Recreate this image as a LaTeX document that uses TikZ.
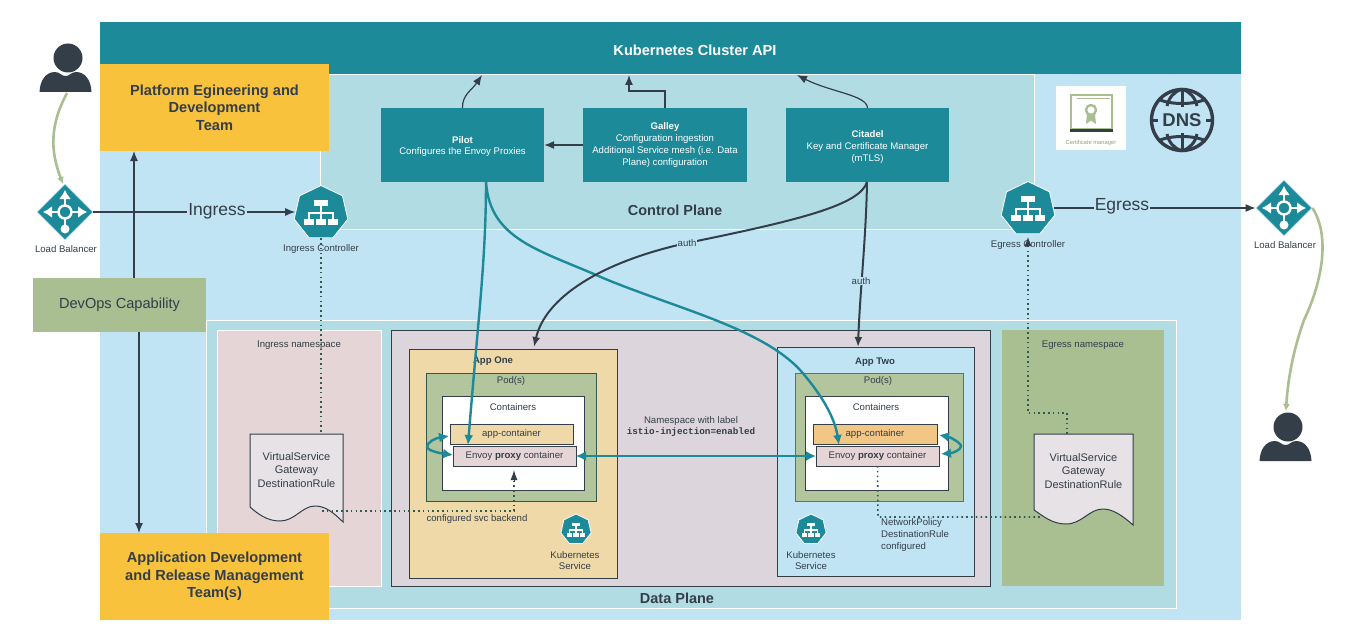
\documentclass[tikz,border=0pt]{standalone}
\usepackage{fontspec}
\setmainfont{Liberation Sans}
\setmonofont{Liberation Mono}
\usetikzlibrary{arrows.meta,calc,shapes.geometric}

\definecolor{meshteal}{HTML}{1C8A99}
\definecolor{meshsky}{HTML}{C1E4F5}
\definecolor{meshplane}{HTML}{B2DCE4}
\definecolor{meshpink}{HTML}{E6D5D6}
\definecolor{meshmauve}{HTML}{DDD5DC}
\definecolor{meshamber}{HTML}{F9C23C}
\definecolor{meshsage}{HTML}{A9BF92}
\definecolor{meshpeach}{HTML}{EFD9A8}
\definecolor{meshdark}{HTML}{333E48}
\definecolor{meshdot}{HTML}{2E5A50}

\tikzset{
	panel/.style={rectangle, inner sep=0pt, outer sep=0pt, text=meshdark},
	tealbox/.style={panel, fill=meshteal, text=white, align=center, minimum height=74pt, font=\fontsize{9.6}{11.7}\selectfont},
	teambox/.style={panel, fill=meshamber, align=center, minimum width=229pt, minimum height=87pt, font=\fontsize{14.6}{17.6}\selectfont\bfseries},
	tag/.style={text=meshdark, inner sep=0pt, align=center, font=\fontsize{9.6}{11.7}\selectfont},
	darkframe/.style={draw=meshdark, line width=1pt},
	flowline/.style={draw=meshdark, line width=1.2pt, -{Latex[length=10pt,width=8pt]}},
	authline/.style={draw=meshdark, line width=2pt, -{Latex[length=10pt,width=8pt]}},
	proxyline/.style={draw=meshteal, line width=2.4pt, -{Latex[length=10pt,width=9pt]}},
	proxyloop/.style={draw=meshteal, line width=2.4pt, {Latex[length=10pt,width=10pt]}-{Latex[length=10pt,width=10pt]}},
	dotline/.style={draw=meshdot, line width=1.6pt, dash pattern=on 1.6pt off 3.2pt},
	userline/.style={draw=meshsage, line width=2.6pt, -{Latex[length=7pt,width=7pt,fill=meshamber]}},
	lbshape/.style={diamond, fill=meshteal, draw=meshsky, line width=.8pt, minimum size=56pt, inner sep=0pt},
	kubeshape/.style={regular polygon, regular polygon sides=7, fill=meshteal, draw=white, line width=.8pt, inner sep=0pt},
	linkword/.style={fill=meshsky, text=meshdark, inner sep=1pt, font=\fontsize{17.5}{19}\selectfont},
	authword/.style={fill=meshsky, text=meshdark, inner sep=.6pt, font=\fontsize{9.6}{11}\selectfont},
}

\def\lbglyph(#1){
	\begin{scope}[shift={(#1)}]
		\draw[white, line width=2.4pt] (0,0) circle (6.5);
		\draw[white, line width=2.4pt, -{Latex[length=9pt,width=12pt]}] (0,-6) -- (0,-22);
		\draw[white, line width=2.4pt, -{Latex[length=9pt,width=12pt]}] (-6,0) -- (-22,0);
		\draw[white, line width=2.4pt, -{Latex[length=9pt,width=12pt]}] (6,0) -- (22,0);
		\draw[white, line width=2.4pt] (0,6) -- (0,16);
		\fill[white] (0,17) circle (4.5);
	\end{scope}
}
\def\kubeglyph(#1)(#2){
	\begin{scope}[shift={(#1)}, scale=#2]
		\fill[white] (-7,-12) rectangle (7,-6);
		\draw[white, line width=1.2pt] (0,-6) -- (0,1) (-12,7) -- (-12,1) -- (12,1) -- (12,7) (0,1) -- (0,7);
		\fill[white] (-17,7) rectangle (-7,13);
		\fill[white] (-5,7) rectangle (5,13);
		\fill[white] (7,7) rectangle (17,13);
	\end{scope}
}
\def\personicon(#1){
	\begin{scope}[shift={(#1)}]
		\fill[meshdark] (0,0) circle (14.5);
		\fill[meshdark] (-28.5,34) .. controls (-28,22) and (-22,14) .. (-13,14) .. controls (-8,14) and (-7,18) .. (-2.5,18) .. controls (2,18) and (3,14) .. (8,14) .. controls (17,14) and (23,22) .. (23.5,34) -- cycle;
	\end{scope}
}

\begin{document}
\begin{tikzpicture}[x=1pt, y=-1pt]
	\useasboundingbox (0,0) rectangle (1350,642);
	
	%%%%% BACKDROP %%%%%
	\node[panel, fill=meshsky, minimum width=1141pt, minimum height=598pt] (clusterarea) at (670.5,321) {};
	\node[panel, fill=meshplane, draw=white, line width=.6pt, minimum width=714pt, minimum height=155pt] (controlplane) at (677,151.5) {};
	\node[panel, fill=meshteal, minimum width=1141pt, minimum height=52pt] (clusterapi) at (670.5,48) {};
	\node[panel, text=white, font=\fontsize{14.6}{17}\selectfont\bfseries] (clusterlabel) at (695,50.5) {Kubernetes Cluster API};
	\node[panel, font=\fontsize{14.5}{17}\selectfont\bfseries] (controllabel) at (675,210.5) {Control Plane};
	
	\node[panel, fill=meshplane, draw=white, line width=.6pt, minimum width=970pt, minimum height=288pt] (dataplane) at (691,464) {};
	\node[panel, font=\fontsize{14.5}{17}\selectfont\bfseries] (datalabel) at (677,598) {Data Plane};
	
	%%%%% NAMESPACES %%%%%
	\node[panel, fill=meshpink, draw=white, line width=.8pt, minimum width=164pt, minimum height=256pt] (ingressns) at (299,458) {};
	\node[tag] (ingresstitle) at (299,345.5) {Ingress namespace};
	\node[panel, fill=meshmauve, darkframe, minimum width=599pt, minimum height=256pt] (meshns) at (690.5,458) {};
	\node[panel, fill=meshsage, minimum width=162pt, minimum height=256pt] (egressns) at (1083,458) {};
	\node[tag] (egresstitle) at (1083,345.5) {Egress namespace};
	\node[tag] (nslabel) at (691,426.5) {Namespace with label\\\fontsize{9.3}{11.7}\selectfont\ttfamily\bfseries istio-injection=enabled};
	
	%%%%% APP ONE %%%%%
	\node[panel, fill=meshpeach, darkframe, minimum width=208pt, minimum height=229pt] (appone) at (513,463.5) {};
	\node[tag, font=\fontsize{9.6}{11.7}\selectfont\bfseries] (apponetitle) at (493,361) {App One};
	\node[panel, fill=meshsage!90!white, draw=meshdot, line width=.8pt, minimum width=170pt, minimum height=128pt] (podone) at (511,437) {};
	\node[tag] (podonetitle) at (511,381.5) {Pod(s)};
	\node[panel, fill=white, darkframe, minimum width=142pt, minimum height=94pt] (boxone) at (513,443) {};
	\node[tag] (boxonetitle) at (513,407) {Containers};
	\node[panel, fill=meshpeach, darkframe, font=\fontsize{9.6}{11.7}\selectfont, minimum width=123pt, minimum height=20pt] (appcone) at (511.5,434) {app-container};
	\node[panel, fill=meshpink, darkframe, font=\fontsize{9.6}{11.7}\selectfont, minimum width=123pt, minimum height=20pt] (envoyone) at (514.5,456) {\raisebox{1.5pt}{Envoy \textbf{proxy} container}};
	\node[kubeshape, minimum size=31pt] (kubeone) at (576,529.5) {};
	\kubeglyph(576,529.5)(.55)
	\node[tag] (kubeonetitle) at (575,560.5) {Kubernetes\\Service};
	
	%%%%% APP TWO %%%%%
	\node[panel, fill=meshsky, darkframe, minimum width=197pt, minimum height=229pt] (apptwo) at (875.5,461.5) {};
	\node[tag, font=\fontsize{9.6}{11.7}\selectfont\bfseries] (apptwotitle) at (875,362) {App Two};
	\node[panel, fill=meshsage!90!white, draw=meshteal, line width=.8pt, minimum width=168pt, minimum height=128pt] (podtwo) at (879,437) {};
	\node[tag] (podtwotitle) at (878,381.5) {Pod(s)};
	\node[panel, fill=white, darkframe, minimum width=143pt, minimum height=94pt] (boxtwo) at (876.5,443) {};
	\node[tag] (boxtwotitle) at (876,407) {Containers};
	\node[panel, fill=meshpeach!80!orange, darkframe, font=\fontsize{9.6}{11.7}\selectfont, minimum width=124pt, minimum height=20pt] (appctwo) at (875,434) {app-container};
	\node[panel, fill=meshpink, darkframe, font=\fontsize{9.6}{11.7}\selectfont, minimum width=123pt, minimum height=20pt] (envoytwo) at (877.5,456) {\raisebox{1.5pt}{Envoy \textbf{proxy} container}};
	\node[kubeshape, minimum size=31pt] (kubetwo) at (811,529.5) {};
	\kubeglyph(811,529.5)(.55)
	\node[tag] (kubetwotitle) at (811,560.5) {Kubernetes\\Service};
	\node[tag, align=left, anchor=north west] (policylabel) at (881,518.5) {NetworkPolicy\\DestinationRule\\configured};
	
	%%%%% VIRTUAL SERVICE SHEETS %%%%%
	\draw[darkframe, fill=meshmauve!70!white] (250,434) -- (343,434) -- (343,522) .. controls (333,512) and (325,506) .. (315,506) .. controls (302,506) and (295,521) .. (280,521) .. controls (267,521) and (258,514) .. (250,507) -- cycle;
	\node[tag, font=\fontsize{11}{13.2}\selectfont] (sheetingress) at (296.5,470) {VirtualService\\Gateway\\DestinationRule};
	\draw[darkframe, fill=meshmauve!70!white] (1034,434) -- (1133,434) -- (1133,525) .. controls (1123,516) and (1113,509) .. (1103,509) .. controls (1089,509) and (1082,524) .. (1066,524) .. controls (1052,524) and (1043,516) .. (1034,510) -- cycle;
	\node[tag, font=\fontsize{11}{13.2}\selectfont] (sheetegress) at (1083.5,471) {VirtualService\\Gateway\\DestinationRule};
	
	%%%%% TEAMS %%%%%
	\node[teambox] (platformteam) at (214.5,107.5) {Platform Egineering and\\Development\\Team};
	\node[teambox] (appteam) at (214.5,576.5) {Application Development\\and Release Management\\Team(s)};
	\node[panel, fill=meshsage, font=\fontsize{14.6}{17}\selectfont, minimum width=173pt, minimum height=54pt] (devops) at (119.5,305) {DevOps Capability};
	
	%%%%% CONTROL PLANE BOXES %%%%%
	\node[tealbox, minimum width=163pt] (pilot) at (462.5,145) {\rule{0pt}{10pt}\textbf{Pilot}\\Configures the Envoy Proxies};
	\node[tealbox, minimum width=164pt] (galley) at (665,145) {\textbf{Galley}\\Configuration ingestion\\Additional Service mesh (i.e. Data\\Plane) configuration};
	\node[tealbox, minimum width=163pt] (citadel) at (867.5,145) {\rule{0pt}{11pt}\textbf{Citadel}\\Key and Certificate Manager\\(mTLS)};
	
	%%%%% CERTIFICATE AND DNS %%%%%
	\node[panel, fill=white, minimum width=70pt, minimum height=64pt] (certbox) at (1091,118) {};
	\draw[meshsage, line width=2.2pt] (1071,95) rectangle (1112,129);
	\draw[meshsage, line width=1.8pt] (1077,98.5) -- (1110,98.5);
	\draw[meshdark, line width=3pt] (1070,130) -- (1113,130);
	\draw[meshsage, line width=2.4pt] (1091,110) circle (5);
	\fill[meshsage] (1087,114) -- (1086,124) -- (1091,120.5) -- (1096,124) -- (1095,114) -- cycle;
	\node[tag, text=meshsage!85!black, font=\fontsize{5.8}{7}\selectfont] (certlabel) at (1091,143) {Certificate manager};
	\draw[meshdark, line width=3.4pt] (1182,120) circle (30.5);
	\draw[meshdark, line width=3pt] (1182,89) -- (1182,107) (1182,133) -- (1182,151) (1151,120) -- (1158,120) (1206,120) -- (1213,120);
	\draw[meshdark, line width=3pt] (1158,99) .. controls (1170,105) and (1194,105) .. (1206,99) (1158,141) .. controls (1170,135) and (1194,135) .. (1206,141);
	\draw[meshdark, line width=3pt] (1182,89) .. controls (1174,92) and (1169,97) .. (1167,106) (1182,89) .. controls (1190,92) and (1195,97) .. (1197,106) (1182,151) .. controls (1174,148) and (1169,143) .. (1167,134) (1182,151) .. controls (1190,148) and (1195,143) .. (1197,134);
	\node[tag, font=\fontsize{18.5}{20}\selectfont\bfseries] (dnslabel) at (1182,120.5) {DNS};
	
	%%%%% EDGE ICONS %%%%%
	\personicon(68,58)
	\personicon(1288,427)
	\coordinate (userleft) at (67,93);
	\coordinate (userright) at (1286,411);
	\node[lbshape] (lbleft) at (65,212) {};
	\lbglyph(65,212)
	\node[tag] (lblefttitle) at (66,249) {Load Balancer};
	\node[lbshape] (lbright) at (1284,208) {};
	\lbglyph(1284,208)
	\node[tag] (lbrighttitle) at (1285,245) {Load Balancer};
	\node[kubeshape, minimum size=55pt] (ingressctl) at (321,213) {};
	\kubeglyph(321,212)(1)
	\node[tag] (ingressctltitle) at (321,249.5) {Ingress Controller};
	\node[kubeshape, minimum size=55pt] (egressctl) at (1028,209) {};
	\kubeglyph(1028,208)(1)
	\node[tag] (egressctltitle) at (1028,245) {Egress Controller};
	
	%%%%% CONNECTORS %%%%%
	\draw[userline] (userleft) .. controls (50,125) and (50,150) .. (63,184);
	\draw[userline] (lbright.east) .. controls (1330,235) and (1323,280) .. (1304,320) .. controls (1295,345) and (1288,375) .. (userright);
	
	\coordinate (devopsup) at (134,278);
	\coordinate (devopsdown) at (139,332);
	\draw[flowline] (devopsup) -- (devopsup |- platformteam.south);
	\draw[flowline] (devopsdown) -- (devopsdown |- appteam.north);
	
	\draw[flowline] (lbleft.east) -- (lbleft.east -| ingressctl.west);
	\node[linkword] (ingresslabel) at (217,211.5) {Ingress};
	\draw[flowline] (egressctl.east |- lbright.west) -- (lbright.west);
	\node[linkword] (egresslabel) at (1122,206.5) {Egress};
	
	\coordinate (pilottarget) at (482,75);
	\coordinate (galleytarget) at (629,75);
	\coordinate (citadeltarget) at (797,75);
	\draw[flowline] (pilot.north) .. controls (462,95) and (472,90) .. (pilottarget);
	\draw[flowline] (galley.north) -- (665,91) -- (629,91) -- (galleytarget);
	\draw[flowline] (citadel.north) .. controls (867,95) and (830,92) .. (citadeltarget);
	\draw[flowline, line width=1.6pt] (galley.west) -- (pilot.east);
	
	\coordinate (pilotfoot) at (486,182);
	\draw[proxyline] (pilotfoot) .. controls (486,260) and (478,320) .. (468,445);
	\draw[proxyline] (pilotfoot) .. controls (490,240) and (540,250) .. (603,278) .. controls (680,310) and (770,330) .. (806,377) .. controls (825,400) and (835,420) .. (839,445);
	\draw[proxyloop] (envoyone.east) -- (envoytwo.west);
	\draw[proxyloop] (449,436) .. controls (436,438) and (427,442) .. (427,447) .. controls (427,450) and (438,453) .. (453,455);
	\draw[proxyloop] (939,435) .. controls (950,437) and (961,443) .. (961,446) .. controls (961,450) and (953,453) .. (941,454);
	
	\coordinate (citadelfoot) at (867,182);
	\draw[authline] (citadelfoot) .. controls (860,205) and (800,220) .. (687,243) .. controls (600,262) and (545,298) .. (534,347);
	\node[authword] (authleft) at (687,243) {auth};
	\draw[authline] (citadelfoot) .. controls (866,240) and (860,290) .. (858,347);
	\node[authword] (authright) at (861,281) {auth};
	
	\draw[dotline] (ingressctl.south) -- (321,434);
	\draw[dotline] (322,511) -- (514,511) -- (514,478);
	\draw[draw=meshdark, line width=1pt, -{Latex[length=10pt,width=7pt]}] (514,480) -- (514,470);
	\node[tag] (svclabel) at (477,519) {configured svc backend};
	\draw[dotline] (envoytwo.south) -- (878,517) -- (1040,517);
	\draw[dotline] (1067,434) -- (1067,413) -- (1028,413) -- (1028,245);
	\draw[draw=meshdark, line width=1pt, -{Latex[length=9pt,width=7pt]}] (1028,246) -- (1028,237);
\end{tikzpicture}
\end{document}
